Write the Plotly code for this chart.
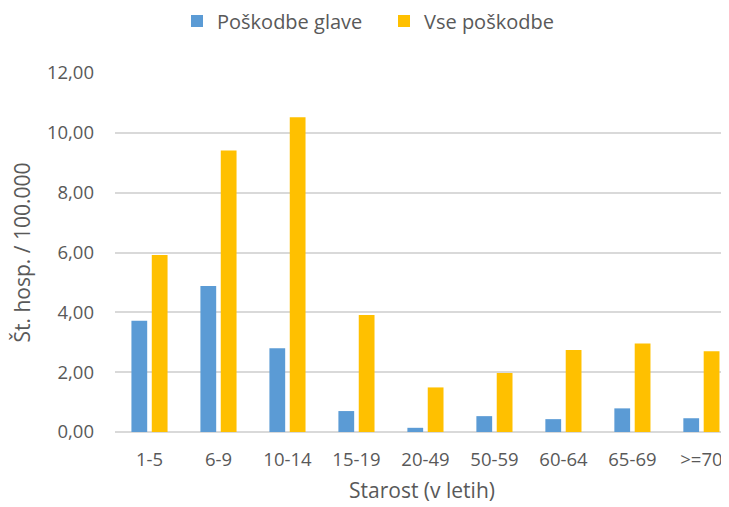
import plotly.graph_objects as go

categories = ["1-5", "6-9", "10-14", "15-19", "20-49", "50-59", "60-64", "65-69", ">=70"]
glava = [3.72, 4.88, 2.80, 0.70, 0.14, 0.53, 0.43, 0.79, 0.46]
vse = [5.92, 9.41, 10.52, 3.91, 1.49, 1.97, 2.74, 2.96, 2.70]
yticks = [0, 2, 4, 6, 8, 10, 12]
ytick_labels = ["0,00", "2,00", "4,00", "6,00", "8,00", "10,00", "12,00"]

font_family = "Open Sans, DejaVu Sans, sans-serif"
gray = "#595959"

# the page body has an ~8px margin, so the figure is sized to fill 729x507 from offset 8
W, H = 721, 499

fig = go.Figure()
fig.add_trace(go.Bar(x=categories, y=glava, name="Poškodbe glave",
                     marker=dict(color="#5B9BD5", line=dict(width=0))))
fig.add_trace(go.Bar(x=categories, y=vse, name="Vse poškodbe",
                     marker=dict(color="#FFC000", line=dict(width=0))))

fig.update_layout(
    width=W, height=H,
    margin=dict(l=107, r=0, t=65, b=75, autoexpand=False),
    paper_bgcolor="white", plot_bgcolor="white",
    barmode="group", bargap=0.41, bargroupgap=0.225,
    font=dict(family=font_family, color=gray, size=18),
    legend=dict(orientation="h", x=169 / W, xanchor="left", y=1 - 13 / H, yanchor="middle",
                xref="container", yref="container",
                font=dict(size=20, color=gray), entrywidth=162,
                traceorder="normal"),
    xaxis=dict(range=[-0.5, 8.4], showgrid=False, showline=False, ticks="",
               ticklabelstandoff=14,
               tickfont=dict(size=18.5, color=gray),
               title=dict(text="Starost (v letih)", font=dict(size=21, color=gray), standoff=13)),
    yaxis=dict(range=[0, 12], tickvals=yticks, ticktext=ytick_labels,
               showgrid=True, gridcolor="#D9D9D9", gridwidth=1.5,
               zeroline=True, zerolinecolor="#D9D9D9", zerolinewidth=1.5,
               ticks="", ticklabelstandoff=20,
               tickfont=dict(size=18.5, color=gray),
               title=dict(text="Št. hosp. / 100.000", font=dict(size=21, color=gray), standoff=10)),
)

fig.write_html("out.html")
